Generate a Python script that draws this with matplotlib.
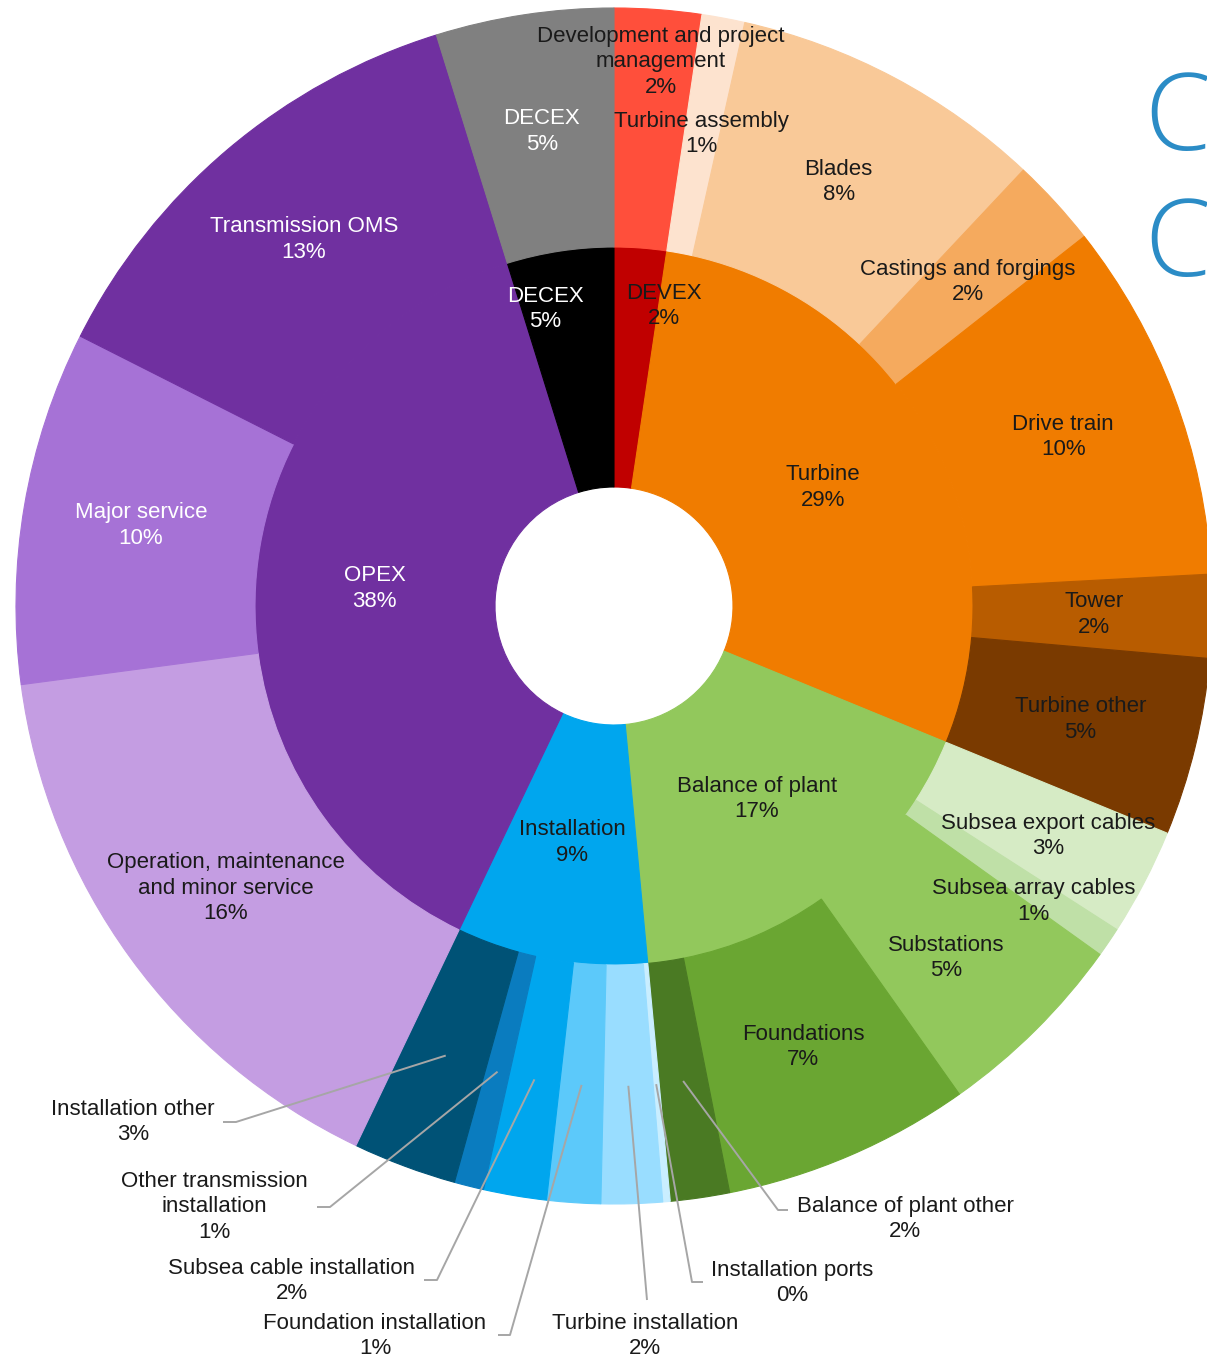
import numpy as np
import matplotlib
matplotlib.use("Agg")
import matplotlib.pyplot as plt
from matplotlib.lines import Line2D

# ---------------- data: share of lifetime cost (%) ----------------
groups = ["DEVEX", "Turbine", "Balance of plant", "Installation", "OPEX", "DECEX"]
group_share = [2.35, 28.85, 17.3, 8.6, 38.1, 4.8]

items = [
    "Development and project\nmanagement", "Turbine assembly", "Blades",
    "Castings and forgings", "Drive train", "Tower", "Turbine other",
    "Subsea export cables", "Subsea array cables", "Substations", "Foundations",
    "Balance of plant other",
    "Installation ports", "Turbine installation", "Foundation installation",
    "Subsea cable installation", "Other transmission\ninstallation", "Installation other",
    "Operation, maintenance\nand minor service", "Major service", "Transmission OMS", "DECEX",
]
item_share = [
    2.35, 1.16, 8.49, 2.4, 9.75, 2.25, 4.8,
    2.9, 0.8, 5.3, 6.7, 1.6,
    0.2, 1.65, 1.45, 1.7, 0.8, 2.8,
    15.8, 9.55, 12.75, 4.8,
]

# ---------------- styling ----------------
group_colors = ["#C00000", "#F07C00", "#92C85C", "#00A6EE", "#7030A0", "#000000"]
group_text = ["#1a1a1a", "#1a1a1a", "#1a1a1a", "#1a1a1a", "white", "white"]

item_colors = [
    "#FF4F3B", "#FDE3CF", "#F9C998", "#F5AA5E", "#F07C00", "#B85C00", "#7A3A00",
    "#D6EBC5", "#BFE0A7", "#92C85C", "#6AA632", "#4A7A23",
    "#C9EEFF", "#99DDFF", "#5CC9FA", "#00A6EE", "#0A7CBF", "#005276",
    "#C49DE2", "#A672D6", "#7030A0", "#808080",
]
white_items = {"Major service", "Transmission OMS", "DECEX"}
outside_items = {"Balance of plant other", "Installation ports", "Turbine installation",
                 "Foundation installation", "Subsea cable installation",
                 "Other transmission\ninstallation", "Installation other"}

# ring geometry (pixels)
CX, CY = 614, 606
R_HOLE, R_MID, R_OUT = 119, 359, 598
R_IN_LABEL, R_OUT_LABEL = 240, 480

# hand-placed label spots (angle clockwise from 12 o'clock, radius)
inner_label_pos = {"DEVEX": (9.5, 304), "DECEX": (347.0, 305)}
outer_label_pos = {
    "Development and project\nmanagement": (4.9, 546),
    "Subsea export cables": (117.9, 491),
    "Subsea array cables": (125.2, 513),
    "Substations": (136.7, 484),
}
# outside labels: text centre, leader elbow and leader end (pixels)
outside_layout = {
    "Installation other": ((133, 1122), (236, 1122), (223, 1122)),
    "Other transmission\ninstallation": ((214, 1207), (330, 1207), (317, 1207)),
    "Subsea cable installation": ((292, 1281), (437, 1280), (424, 1280)),
    "Foundation installation": ((375, 1336), (510, 1335), (498, 1335)),
    "Turbine installation": ((645, 1336), (647, 1300), (647, 1300)),
    "Installation ports": ((792, 1283), (692, 1282), (703, 1282)),
    "Balance of plant other": ((905, 1219), (778, 1210), (788, 1210)),
}

FONT = "Liberation Sans"
FS = 16
LS = 1.28
DARK = "#1a1a1a"
LEADER = "#A6A6A6"

W, H = 1207, 1358


def px(x, y):
    return x - CX, CY - y


def polar(theta_deg, r):
    t = np.deg2rad(theta_deg)
    return r * np.sin(t), r * np.cos(t)


def mid_angles(shares):
    shares = np.asarray(shares, float)
    cum = np.cumsum(shares)
    return 360.0 * (cum - shares / 2) / shares.sum()


fig = plt.figure(figsize=(W / 100, H / 100), dpi=100)
ax = fig.add_axes([0, 0, 1, 1])

inner_wedges, _ = ax.pie(group_share, radius=R_MID, startangle=90, counterclock=False,
                         colors=group_colors,
                         wedgeprops=dict(width=R_MID - R_HOLE, linewidth=0.8))
outer_wedges, _ = ax.pie(item_share, radius=R_OUT, startangle=90, counterclock=False,
                         colors=item_colors,
                         wedgeprops=dict(width=R_OUT - R_MID, linewidth=0.8))
# edges in the fill colour so neighbouring wedges meet without seams
for w, c in zip(list(inner_wedges) + list(outer_wedges), group_colors + item_colors):
    w.set_edgecolor(c)

ax.set_xlim(-CX, W - CX)
ax.set_ylim(CY - H, CY)
ax.set_aspect("equal")
ax.axis("off")

# inner ring labels
for name, v, th, col in zip(groups, group_share, mid_angles(group_share), group_text):
    ang, r = inner_label_pos.get(name, (th, R_IN_LABEL))
    x, y = polar(ang, r)
    ax.text(x, y, f"{name}\n{v:.0f}%", ha="center", va="center", color=col,
            fontsize=FS, family=FONT, linespacing=LS)

# outer ring labels
for name, v, th in zip(items, item_share, mid_angles(item_share)):
    label = f"{name}\n{v:.0f}%"
    col = "white" if name in white_items else DARK
    if name in outside_items:
        (tx, ty), (ex, ey), (lx, ly) = outside_layout[name]
        ax0, ay0 = polar(th, R_OUT_LABEL)
        pts = [(ax0, ay0), px(ex, ey), px(lx, ly)]
        ax.add_line(Line2D([p[0] for p in pts], [p[1] for p in pts],
                           color=LEADER, lw=1.4, solid_capstyle="butt"))
        x, y = px(tx, ty)
        ax.text(x, y, label, ha="center", va="center", color=DARK,
                fontsize=FS, family=FONT, linespacing=LS)
    else:
        ang, r = outer_label_pos.get(name, (th, R_OUT_LABEL))
        x, y = polar(ang, r)
        ax.text(x, y, label, ha="center", va="center", color=col,
                fontsize=FS, family=FONT, linespacing=LS)

# heading letters running off the right edge
for base in (150, 276):
    fig.text(1144 / W, 1 - base / H, "C", color="#2B8CC6", fontsize=77,
             family="Open Sans", fontweight="light", ha="left", va="baseline")

fig.savefig("out.png", dpi=100)
